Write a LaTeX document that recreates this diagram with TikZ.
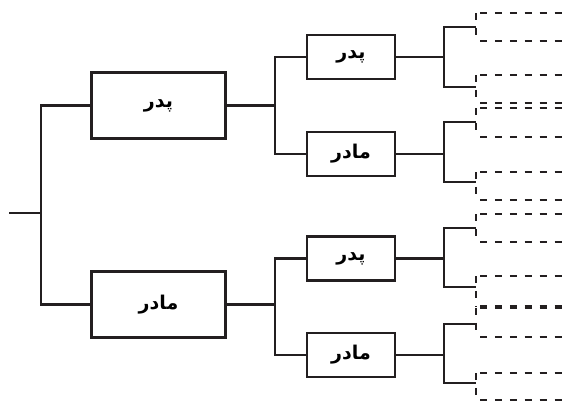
\documentclass[tikz,border=0pt]{standalone}
\usepackage{fontspec}
\newfontfamily\arabicfont[Script=Arabic]{DejaVu Sans}
\TeXXeTstate=1
\definecolor{ink}{RGB}{35,31,32}
\newcommand{\fa}[1]{{\arabicfont\bfseries\beginR #1\endR}}
\tikzset{
  parent/.style={draw=ink,line width=1.5pt,minimum width=3.35cm,minimum height=1.65cm,
    inner sep=0pt,font=\fontsize{13.5}{15}\selectfont},
  grand/.style={parent,minimum width=2.2cm,minimum height=1.1cm},
  link/.style={draw=ink,line width=1.5pt},
  unknown/.style={draw=ink,line width=1.4pt,dash pattern=on 5pt off 5.6pt},
}
\begin{document}
\begin{tikzpicture}[x=0.025cm,y=-0.025cm]
  \useasboundingbox (0,0) rectangle (562,402);
  % child and parents
  \coordinate (root) at (9,213);
  \coordinate (j0) at (41,213);
  \node[parent] (p) at (158.5,105.5) {\fa{پدر}};
  \node[parent] (m) at (158.5,304.5) {\fa{مادر}};
  \draw[link] (root) -- (j0);
  \draw[link] (p.west) -| (j0) |- (m.west);
  % grandparents
  \foreach \n/\y/\t in {pp/57/پدر,pm/154/مادر,mp/258.5/پدر,mm/355/مادر}
    \node[grand] (\n) at (351,\y) {\fa{\t}};
  \foreach \a/\u/\l in {p/pp/pm,m/mp/mm}{
    \draw[link] (\a.east) -- ++(48,0) coordinate (j\a);
    \draw[link] (\u.west) -| (j\a) |- (\l.west);
  }
  % great-grandparents (unknown)
  \foreach \n/\ya/\yb in {pp/27/87,pm/122/182,mp/228/287,mm/324/383}{
    \draw[link] (\n.east) -- ++(48,0) coordinate (j\n);
    \coordinate (\n-a) at (476,\ya);
    \coordinate (\n-b) at (476,\yb);
    \draw[link] (\n-a) -| (j\n) |- (\n-b);
  }
  \foreach \t/\b in {13/41,75/103,108/137,172/200,214/242,276/306,308/337,373/400}{
    \draw[unknown] (476,\t) -- (476,\b);
    \draw[unknown] (480,\t) -- (562,\t);
    \draw[unknown] (480,\b) -- (562,\b);
  }
\end{tikzpicture}
\end{document}
